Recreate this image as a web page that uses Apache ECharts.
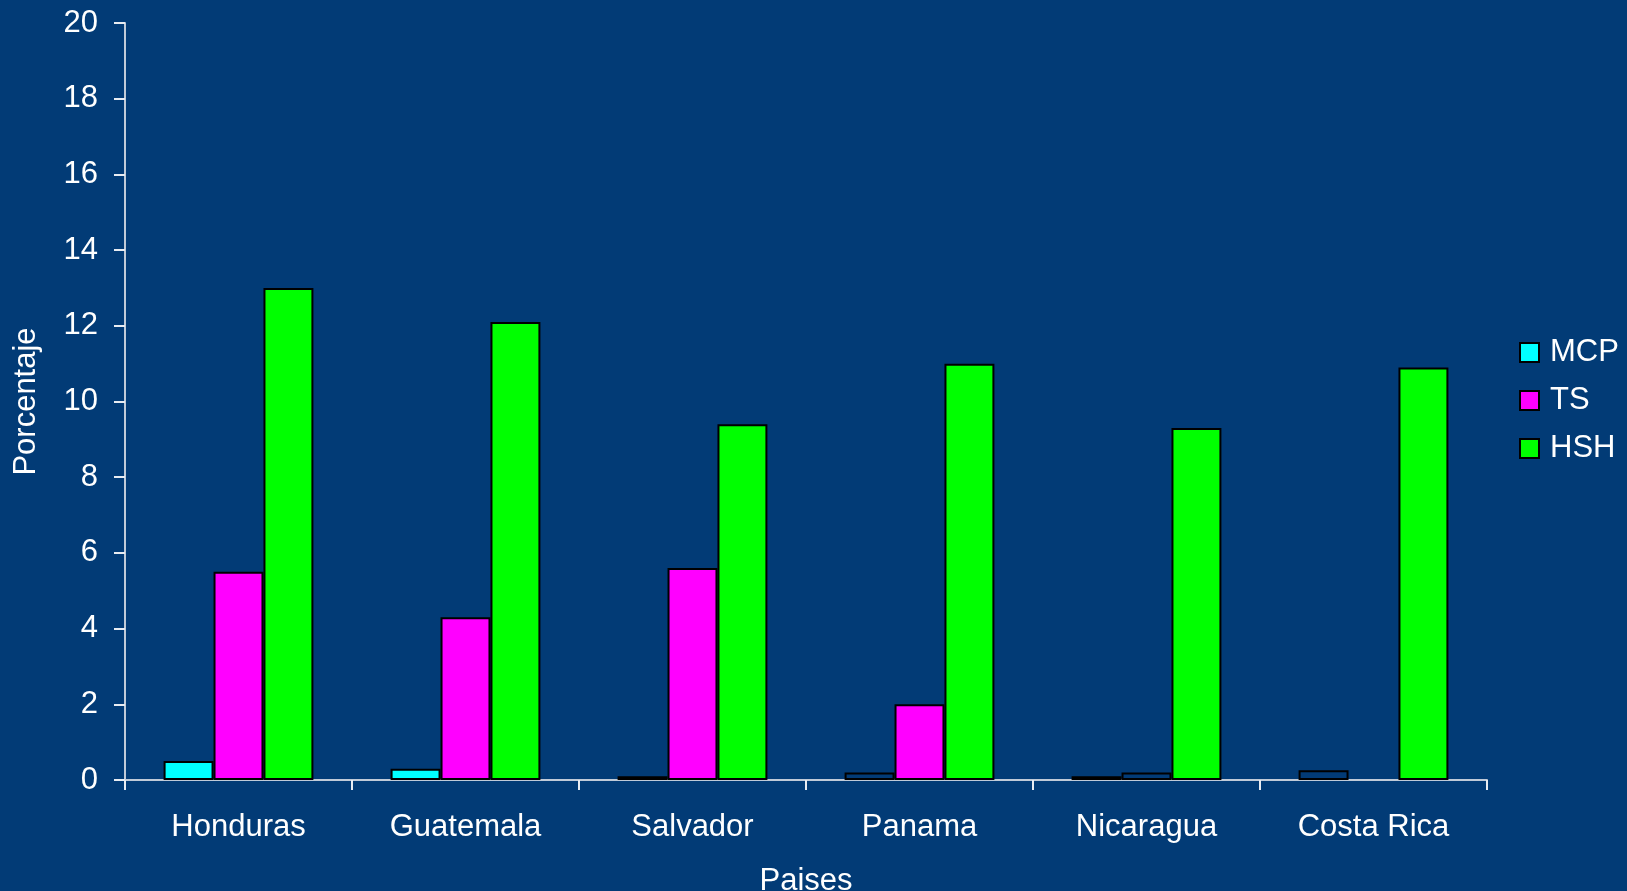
<!DOCTYPE html>
<html>
<head>
<meta charset="utf-8">
<script src="https://cdn.jsdelivr.net/npm/echarts@6/dist/echarts.min.js"></script>
<style>
html,body{margin:0;padding:0;background:#023b76;}
#chart{width:1627px;height:891px;}
</style>
</head>
<body>
<div id="chart"></div>
<script>
const categories = ['Honduras', 'Guatemala', 'Salvador', 'Panama', 'Nicaragua', 'Costa Rica'];
const mcp = [0.5, 0.3, 0.1, 0.2, 0.1, 0.26];
const ts  = [5.5, 4.3, 5.6, 2.0, 0.2, 0];
const hsh = [13.0, 12.1, 9.4, 11.0, 9.3, 10.9];
const yTicks = [0, 2, 4, 6, 8, 10, 12, 14, 16, 18, 20];

// points drawn as outline only (no fill) in the reference
const hollow = {
  MCP: ['Salvador', 'Panama', 'Nicaragua', 'Costa Rica'],
  TS: ['Nicaragua']
};

const font = 'Liberation Sans, Arial, sans-serif';
const bg = '#023b76';
const fs = 31;

function build(name, values, color) {
  return {
    name: name,
    type: 'bar',
    barGap: '0%',
    barCategoryGap: '34%',
    itemStyle: { color: color, borderColor: '#000', borderWidth: 2 },
    data: values.map((v, i) => {
      if (v === 0) return '-';
      if ((hollow[name] || []).includes(categories[i])) {
        return { value: v, itemStyle: { color: bg } };
      }
      return v;
    })
  };
}

const chart = echarts.init(document.getElementById('chart'));
chart.setOption({
  backgroundColor: bg,
  animation: false,
  textStyle: { fontFamily: font },
  grid: { left: 125, right: 140, top: 23, bottom: 111, containLabel: false, outerBoundsMode: 'none' },
  legend: {
    orient: 'vertical',
    left: 1514,
    top: 332,
    icon: 'rect',
    itemWidth: 19,
    itemHeight: 19,
    itemGap: 17,
    textStyle: { color: '#fff', fontSize: fs, fontFamily: font, padding: [0, 0, 0, 6] },
    data: ['MCP', 'TS', 'HSH']
  },
  xAxis: {
    type: 'category',
    data: categories,
    name: 'Paises',
    nameLocation: 'middle',
    nameGap: 86,
    nameTextStyle: { color: '#fff', fontSize: fs, fontFamily: font },
    axisLine: { lineStyle: { color: '#c0cad8', width: 2 } },
    axisTick: { show: true, length: 10, lineStyle: { color: '#e8ecf2', width: 2 } },
    axisLabel: { color: '#fff', fontSize: fs, fontFamily: font, margin: 32 },
    splitLine: { show: false }
  },
  yAxis: {
    type: 'value',
    min: 0,
    max: 20,
    interval: 2,
    name: 'Porcentaje',
    nameLocation: 'middle',
    nameGap: 83,
    nameTextStyle: { color: '#fff', fontSize: fs, fontFamily: font },
    axisLine: { show: true, lineStyle: { color: '#c0cad8', width: 2 } },
    axisTick: { show: true, length: 11, lineStyle: { color: '#e8ecf2', width: 2 } },
    axisLabel: {
      color: '#fff', fontSize: fs, fontFamily: font, margin: 27,
      formatter: v => yTicks.includes(v) ? String(v) : ''
    },
    splitLine: { show: false }
  },
  series: [
    build('MCP', mcp, '#00ffff'),
    build('TS', ts, '#ff00ff'),
    build('HSH', hsh, '#00ff00')
  ]
});
</script>
</body>
</html>
